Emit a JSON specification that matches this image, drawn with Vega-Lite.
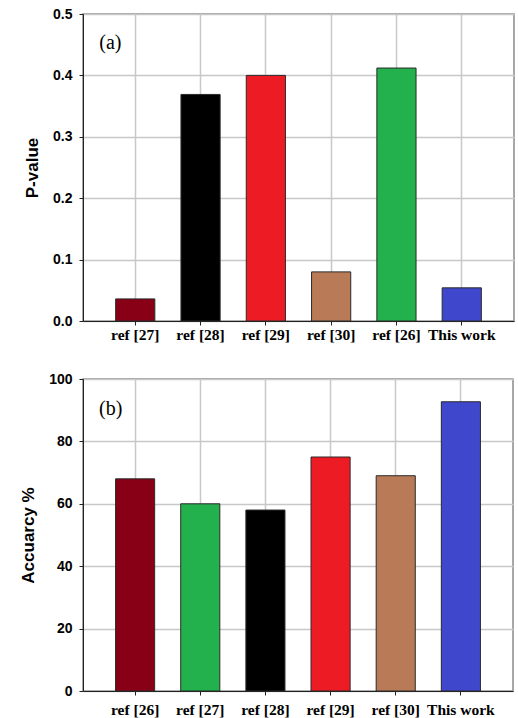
{
  "$schema": "https://vega.github.io/schema/vega-lite/v6.json",
  "padding": {"left": 18, "top": 6, "right": 0, "bottom": 0},
  "background": "white",
  "bounds": "flush",
  "spacing": 58,
  "resolve": {"scale": {"color": "independent"}},
  "config": {
    "view": {"stroke": "#8a8a8a", "strokeWidth": 1.5},
    "axis": {
      "grid": true,
      "gridColor": "#c8c8c8",
      "gridWidth": 1.5,
      "domainColor": "#222222",
      "domainWidth": 1,
      "tickColor": "#222222",
      "labelColor": "#000000",
      "titleColor": "#000000"
    },
    "axisX": {
      "labelAngle": 0,
      "tickSize": 4,
      "labelFont": "Liberation Serif",
      "labelFontWeight": "bold",
      "labelFontSize": 15.5,
      "labelPadding": 2
    },
    "axisY": {
      "tickSize": 4,
      "labelFont": "Liberation Sans",
      "labelFontWeight": "bold",
      "labelFontSize": 14,
      "labelPadding": 7,
      "titleFont": "Liberation Sans",
      "titleFontWeight": "bold",
      "titleFontSize": 17
    }
  },
  "datasets": {
    "pvalues": [
      {"Label": "ref [27]", "P": 0.036},
      {"Label": "ref [28]", "P": 0.369},
      {"Label": "ref [29]", "P": 0.400},
      {"Label": "ref [30]", "P": 0.080},
      {"Label": "ref [26]", "P": 0.412},
      {"Label": "This work", "P": 0.054}
    ],
    "accuracy": [
      {"Label": "ref [26]", "Acc": 68},
      {"Label": "ref [27]", "Acc": 60},
      {"Label": "ref [28]", "Acc": 58},
      {"Label": "ref [29]", "Acc": 75},
      {"Label": "ref [30]", "Acc": 69},
      {"Label": "This work", "Acc": 92.7}
    ]
  },
  "vconcat": [
    {
      "width": 431,
      "height": 307,
      "layer": [
        {
          "data": {"name": "pvalues"},
          "mark": {"type": "bar", "stroke": "#2a2a2a", "strokeWidth": 1},
          "encoding": {
            "x": {
              "field": "Label", "type": "nominal", "sort": null,
              "scale": {"paddingInner": 0.4, "paddingOuter": 0.5},
              "axis": {"title": null}
            },
            "y": {
              "field": "P", "type": "quantitative",
              "scale": {"domain": [0, 0.5], "nice": false},
              "axis": {"title": "P-value", "values": [0, 0.1, 0.2, 0.3, 0.4, 0.5], "format": ".1f", "titlePadding": 11}
            },
            "color": {
              "field": "Label", "type": "nominal", "legend": null,
              "scale": {
                "domain": ["ref [27]", "ref [28]", "ref [29]", "ref [30]", "ref [26]", "This work"],
                "range": ["#880015", "#000000", "#ED1C24", "#B97A57", "#22B14C", "#3F48CC"]
              }
            }
          }
        },
        {
          "data": {"values": [{"Tag": "(a)"}]},
          "mark": {"type": "text", "font": "Liberation Serif", "fontSize": 20, "align": "left", "baseline": "middle", "dx": -36, "color": "#000000"},
          "encoding": {
            "x": {"datum": "ref [27]", "type": "nominal"},
            "y": {"datum": 0.452, "type": "quantitative"},
            "text": {"field": "Tag"}
          }
        }
      ]
    },
    {
      "width": 430,
      "height": 312,
      "layer": [
        {
          "data": {"name": "accuracy"},
          "mark": {"type": "bar", "stroke": "#2a2a2a", "strokeWidth": 1},
          "encoding": {
            "x": {
              "field": "Label", "type": "nominal", "sort": null,
              "scale": {"paddingInner": 0.4, "paddingOuter": 0.5},
              "axis": {"title": null, "labelPadding": 7}
            },
            "y": {
              "field": "Acc", "type": "quantitative",
              "scale": {"domain": [0, 100], "nice": false},
              "axis": {"title": "Accuarcy %", "values": [0, 20, 40, 60, 80, 100], "titlePadding": 11}
            },
            "color": {
              "field": "Label", "type": "nominal", "legend": null,
              "scale": {
                "domain": ["ref [26]", "ref [27]", "ref [28]", "ref [29]", "ref [30]", "This work"],
                "range": ["#880015", "#22B14C", "#000000", "#ED1C24", "#B97A57", "#3F48CC"]
              }
            }
          }
        },
        {
          "data": {"values": [{"Tag": "(b)"}]},
          "mark": {"type": "text", "font": "Liberation Serif", "fontSize": 20, "align": "left", "baseline": "middle", "dx": -36, "color": "#000000"},
          "encoding": {
            "x": {"datum": "ref [26]", "type": "nominal"},
            "y": {"datum": 90.5, "type": "quantitative"},
            "text": {"field": "Tag"}
          }
        }
      ]
    }
  ]
}
